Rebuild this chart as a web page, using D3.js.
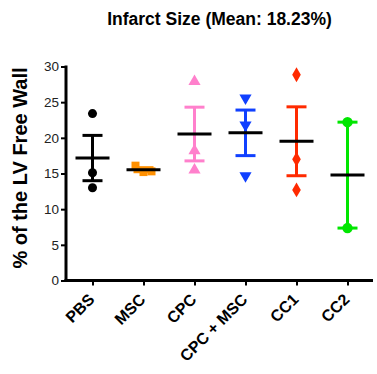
<!DOCTYPE html>
<html>
<head>
<meta charset="utf-8">
<script src="https://cdn.jsdelivr.net/npm/d3@7"></script>
<style>
  body { margin: 0; background: #fff; }
  svg { font-family: 'Liberation Sans', Arial, sans-serif; }
</style>
</head>
<body>
<svg id="chart" width="377" height="374"></svg>
<script>
const width = 377;
const height = 374;

// groups and the raw values (% of LV free wall)
const groups = ['PBS', 'MSC', 'CPC', 'CPC + MSC', 'CC1', 'CC2'];
const pbs = [23.4, 15.1, 13.0];
const msc = [16.1, 15.3, 15.2];
const cpc = [27.9, 18.2, 15.5];
const cpcMsc = [25.6, 21.8, 14.7];
const cc1 = [28.85, 17.0, 12.7];
const cc2 = [22.2, 7.35];
const yTicks = [0, 5, 10, 15, 20, 25, 30];
const title = 'Infarct Size (Mean: 18.23%)';

const values = [pbs, msc, cpc, cpcMsc, cc1, cc2];
const colors = ['#000000', '#ff9000', '#ff80cc', '#1040ff', '#ff2a00', '#00e600'];
const symbols = [d3.symbolCircle, d3.symbolSquare, d3.symbolTriangle, d3.symbolTriangle, d3.symbolDiamond, d3.symbolCircle];

const svg = d3.select('#chart');

const x = d3.scalePoint().domain(groups).range([67, 373]).padding(0.5);
const y = d3.scaleLinear().domain([0, 30]).range([280.5, 66.5]);

// title
svg.append('text')
  .attr('x', 219.5)
  .attr('y', 25)
  .attr('text-anchor', 'middle')
  .style('font-size', '17.5px')
  .style('font-weight', 'bold')
  .text(title);

// y label
svg.append('text')
  .attr('transform', 'translate(27,168) rotate(-90)')
  .attr('text-anchor', 'middle')
  .style('font-size', '20px')
  .style('font-weight', 'bold')
  .text('% of the LV Free Wall');

// y axis
const yAxis = svg.append('g')
  .attr('transform', 'translate(66,0)')
  .call(d3.axisLeft(y).tickValues(yTicks).tickSize(5).tickPadding(2));
yAxis.select('.domain').attr('stroke-width', 3).attr('d', `M0,${y(30) - 1}V${y(0) + 1}`);
yAxis.selectAll('.tick line').attr('stroke-width', 2);
yAxis.selectAll('.tick text').style('font-size', '13.5px').attr('fill', '#222');

// x axis
const xAxis = svg.append('g')
  .attr('transform', `translate(0,${y(0)})`)
  .call(d3.axisBottom(x).tickSize(5).tickFormat(''));
xAxis.select('.domain').attr('stroke-width', 3).attr('d', 'M64.5,0H373');
xAxis.selectAll('.tick line').attr('stroke-width', 2);

svg.append('g')
  .selectAll('text')
  .data(groups)
  .join('text')
  .attr('transform', d => `translate(${x(d) + 3},${y(0) + 20}) rotate(-45)`)
  .attr('text-anchor', 'end')
  .style('font-size', '16px')
  .style('font-weight', 'bold')
  .text(d => d);

// one group per category: points, SEM bars, mean line
const g = svg.append('g')
  .selectAll('g')
  .data(values)
  .join('g')
  .attr('transform', (_, i) => `translate(${x(groups[i])},0)`);

// spread overlapping points sideways, like a scatter dot plot
function spread(vals, size) {
  const order = vals.map((v, i) => [v, i]).sort((a, b) => a[0] - b[0]);
  const placed = [];
  const dx = new Array(vals.length).fill(0);
  let side = 1;
  order.forEach(([v, i]) => {
    const hit = placed.some(p => Math.abs(y(p) - y(v)) < size);
    if (hit) {
      dx[i] = side * size;
      side = -side;
    }
    placed.push(v);
  });
  return dx;
}

g.each(function (vals, i) {
  const grp = d3.select(this);
  const m = d3.mean(vals);
  const sem = d3.deviation(vals) / Math.sqrt(vals.length);
  const c = colors[i];
  const dx = spread(vals, 8);

  // SEM bar
  grp.append('line')
    .attr('x1', 0).attr('x2', 0)
    .attr('y1', y(m + sem)).attr('y2', y(m - sem))
    .attr('stroke', c).attr('stroke-width', 3);
  [m + sem, m - sem].forEach(v => {
    grp.append('line')
      .attr('x1', -10).attr('x2', 10)
      .attr('y1', y(v)).attr('y2', y(v))
      .attr('stroke', c).attr('stroke-width', 3);
  });

  // points
  const sym = d3.symbol().type(symbols[i]).size(i === 5 ? 85 : 64);
  grp.selectAll('path.pt')
    .data(vals)
    .join('path')
    .attr('class', 'pt')
    .attr('d', sym)
    .attr('fill', c)
    .attr('transform', (d, j) => `translate(${dx[j]},${y(d)})${i === 3 ? ' rotate(180)' : ''}`);

  // mean
  grp.append('line')
    .attr('x1', -17).attr('x2', 17)
    .attr('y1', y(m)).attr('y2', y(m))
    .attr('stroke', '#000').attr('stroke-width', 3);
});
</script>
</body>
</html>
